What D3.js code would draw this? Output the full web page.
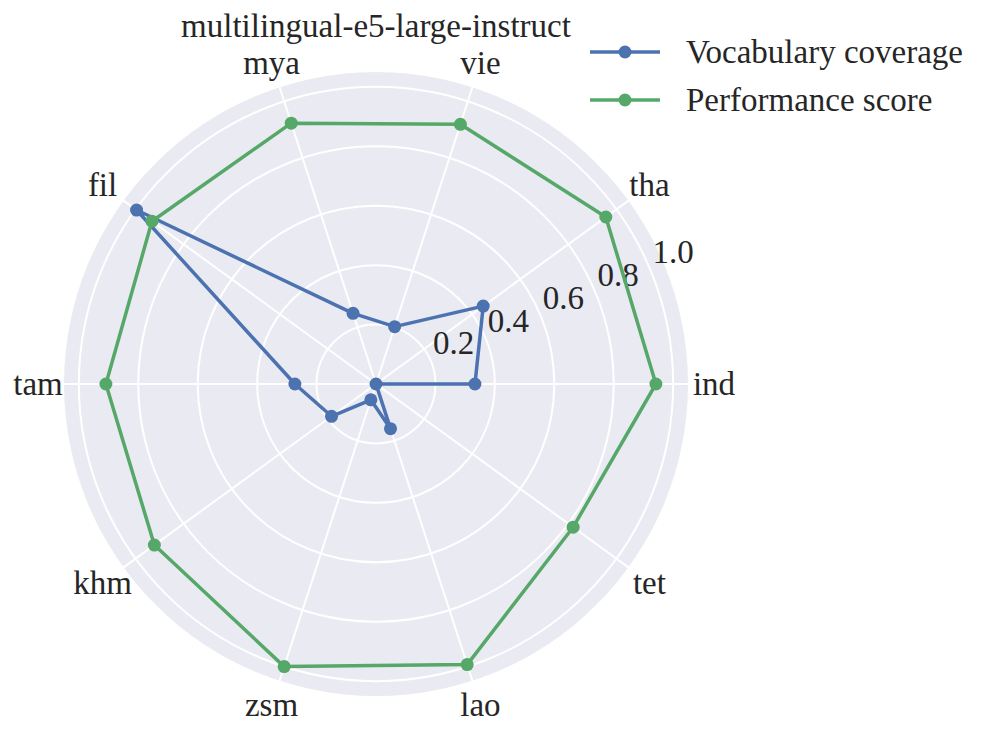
<!DOCTYPE html>
<html>
<head>
<meta charset="utf-8">
<script src="https://cdn.jsdelivr.net/npm/d3@7"></script>
<style>
  body { margin: 0; background: #fff; }
</style>
</head>
<body>
<div id="chart"></div>
<script>
const languages = ['ind', 'tha', 'vie', 'mya', 'fil', 'tam', 'khm', 'zsm', 'lao', 'tet']
const vocabCoverage = [0.333, 0.446, 0.203, 0.25, 0.996, 0.273, 0.185, 0.056, 0.158, 0.0]
const perfScore = [0.942, 0.956, 0.919, 0.923, 0.932, 0.909, 0.922, 1.0, 0.993, 0.82]
const rTicks = [0.2, 0.4, 0.6, 0.8, 1.0]
const seriesNames = ['Vocabulary coverage', 'Performance score']
const chartTitle = 'multilingual-e5-large-instruct'

const width = 996
const height = 735
const cx = 376
const cy = 384
const rMax = 1.05
const fontSize = 33
const colors = ['#4C72B0', '#55A868']
const serif = "'Liberation Serif', 'DejaVu Serif', serif"

const svg = d3.select('#chart')
  .append('svg')
  .attr('width', width)
  .attr('height', height)
  .attr('font-family', serif)
  .style('font-family', serif)

// radial scale and angles (counter-clockwise from east)
const r = d3.scaleLinear().domain([0, rMax]).range([0, 312])
const theta = d3.scaleLinear().domain([0, languages.length]).range([0, 2 * Math.PI])
const px = (i, v) => cx + r(v) * Math.cos(theta(i))
const py = (i, v) => cy - r(v) * Math.sin(theta(i))

const g = svg.append('g')

// background disk
g.append('circle')
  .attr('cx', cx).attr('cy', cy)
  .attr('r', r(rMax))
  .attr('fill', '#EAEAF2')

// circular grid
g.selectAll('.ring')
  .data(rTicks)
  .join('circle')
  .attr('cx', cx).attr('cy', cy)
  .attr('r', d => r(d))
  .attr('fill', 'none')
  .attr('stroke', '#fff')
  .attr('stroke-width', 2)

// spokes
g.selectAll('.spoke')
  .data(languages)
  .join('line')
  .attr('x1', cx).attr('y1', cy)
  .attr('x2', (d, i) => px(i, rMax))
  .attr('y2', (d, i) => py(i, rMax))
  .attr('stroke', '#fff')
  .attr('stroke-width', 2)

// radial tick labels at 22.5 degrees
const labelAngle = 22.5 * Math.PI / 180
g.selectAll('.rtick')
  .data(rTicks)
  .join('text')
  .attr('x', d => cx + r(d) * Math.cos(labelAngle) + 2)
  .attr('y', d => cy - r(d) * Math.sin(labelAngle) - 7)
  .attr('font-size', fontSize)
  .attr('fill', '#262626')
  .text(d => d.toFixed(1))

// category labels
g.selectAll('.cat')
  .data(languages)
  .join('text')
  .attr('x', (d, i) => cx + 338 * Math.cos(theta(i)))
  .attr('y', (d, i) => cy - 338 * Math.sin(theta(i)))
  .attr('text-anchor', 'middle')
  .attr('dominant-baseline', 'central')
  .attr('font-size', fontSize)
  .attr('fill', '#262626')
  .text(d => d)

// series
const line = d3.lineRadial()
  .angle((d, i) => Math.PI / 2 - theta(i))
  .radius(d => r(d))
  .curve(d3.curveLinearClosed)

const series = [vocabCoverage, perfScore]
series.forEach((vals, k) => {
  const s = g.append('g')
  s.append('path')
    .attr('transform', `translate(${cx},${cy})`)
    .attr('d', line(vals))
    .attr('fill', 'none')
    .attr('stroke', colors[k])
    .attr('stroke-width', 3.5)
    .attr('stroke-linejoin', 'round')
  s.selectAll('circle')
    .data(vals)
    .join('circle')
    .attr('cx', (d, i) => px(i, d))
    .attr('cy', (d, i) => py(i, d))
    .attr('r', 6.5)
    .attr('fill', colors[k])
})

// title
svg.append('text')
  .attr('x', cx)
  .attr('y', 37)
  .attr('text-anchor', 'middle')
  .attr('font-size', fontSize)
  .attr('fill', '#262626')
  .text(chartTitle)

// legend
const legend = svg.append('g').attr('transform', 'translate(590, 52)')
seriesNames.forEach((name, k) => {
  const row = legend.append('g').attr('transform', `translate(0, ${k * 48})`)
  row.append('line')
    .attr('x1', 0).attr('x2', 70)
    .attr('stroke', colors[k])
    .attr('stroke-width', 3.5)
  row.append('circle')
    .attr('cx', 35).attr('r', 6.5)
    .attr('fill', colors[k])
  row.append('text')
    .attr('x', 96)
    .attr('y', 11)
    .attr('font-size', fontSize)
    .attr('fill', '#262626')
    .text(name)
})
</script>
</body>
</html>
